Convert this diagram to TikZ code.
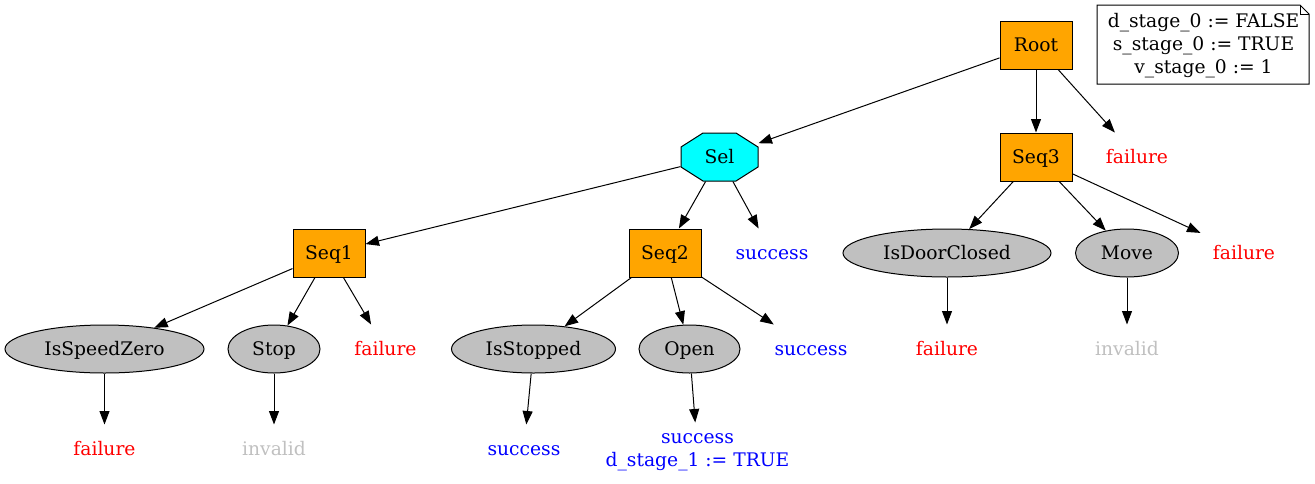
\documentclass[tikz,border=0pt]{standalone}
\usepackage{fontspec}
\setmainfont{DejaVu Serif}
\usetikzlibrary{arrows.meta,shapes.geometric,calc}
\definecolor{gvorange}{HTML}{FFA500}
\definecolor{gvcyan}{HTML}{00FFFF}
\definecolor{gvgray}{HTML}{C0C0C0}
\definecolor{gvblue}{HTML}{0000FF}
\definecolor{gvred}{HTML}{FF0000}
\begin{document}
\begin{tikzpicture}[x=1pt,y=-1pt,
  font=\fontsize{18.7}{23}\selectfont,
  line width=1pt,
  oneline/.style={text height=16pt, text depth=2.4pt},
  box/.style={draw, fill=gvorange, minimum width=72pt, minimum height=48pt, inner sep=0pt, oneline},
  leaf/.style={draw, fill=gvgray, ellipse, minimum height=48pt, inner sep=0pt, oneline},
  resbase/.style={inner xsep=12pt, inner ysep=0pt, minimum height=48pt},
  res/.style={resbase, oneline},
  fail/.style={res, text=gvred},
  succ/.style={res, text=gvblue},
  inval/.style={res, text=gvgray},
  edge/.style={-{Triangle[length=13.5pt,width=10pt]}}]
\useasboundingbox (0,0) rectangle (1315,483);

% note
\draw[fill=white] (1097,5) -- (1300,5) -- (1309,14) -- (1309,84) -- (1097,84) -- cycle;
\draw (1300,5) -- (1300,14) -- (1309,14);
\node[align=center, inner sep=0pt] (note) at (1203.5,46) {d\_stage\_0 := FALSE\\s\_stage\_0 := TRUE\\v\_stage\_0 := 1};

% octagon for Sel
\coordinate (selc) at (719.5,157);
\draw[fill=gvcyan] ($(selc)+(-16.5,-24)$) -- ($(selc)+(16.5,-24)$) -- ($(selc)+(38.5,-10)$) -- ($(selc)+(38.5,10)$) -- ($(selc)+(16.5,24)$) -- ($(selc)+(-16.5,24)$) -- ($(selc)+(-38.5,10)$) -- ($(selc)+(-38.5,-10)$) -- cycle;
\node[minimum width=77pt, minimum height=48pt, inner sep=0pt, oneline] (Sel) at (selc) {Sel};

\node[box] (Root) at (1036,45) {Root};
\node[box] (Seq3) at (1036,157) {Seq3};
\node[fail] (f0) at (1137,157) {failure};

\node[box] (Seq1) at (329,253) {Seq1};
\node[box] (Seq2) at (665,253) {Seq2};
\node[succ] (s0) at (772,253) {success};
\node[leaf, minimum width=208pt] (IsDoorClosed) at (947,253) {IsDoorClosed};
\node[leaf, minimum width=103pt] (Move) at (1127,253) {Move};
\node[fail] (f1) at (1244,253) {failure};

\node[leaf, minimum width=199pt] (IsSpeedZero) at (104.5,349) {IsSpeedZero};
\node[leaf, minimum width=92pt] (Stop) at (274,349) {Stop};
\node[fail] (f2) at (385.5,349) {failure};
\node[leaf, minimum width=164pt] (IsStopped) at (533.5,349) {IsStopped};
\node[leaf, minimum width=101pt] (Open) at (689.5,349) {Open};
\node[succ] (s1) at (811,349) {success};
\node[fail] (f3) at (947,349) {failure};
\node[inval] (inv0) at (1127,349) {invalid};

\node[fail] (f4) at (104.5,449) {failure};
\node[inval] (inv1) at (274,449) {invalid};
\node[succ] (s2) at (524,449) {success};
\node[resbase, text=gvblue, align=center, minimum height=58pt] (s3) at (697.5,452) {success\\d\_stage\_1 := TRUE};

\draw[edge] (Root) -- (Sel);
\draw[edge] (Root) -- (Seq3);
\draw[edge] (Root) -- (f0);
\draw[edge] (Sel) -- (Seq1);
\draw[edge] (Sel) -- (Seq2);
\draw[edge] (Sel) -- (s0);
\draw[edge] (Seq3) -- (IsDoorClosed);
\draw[edge] (Seq3) -- (Move);
\draw[edge] (Seq3) -- (f1);
\draw[edge] (Seq1) -- (IsSpeedZero);
\draw[edge] (Seq1) -- (Stop);
\draw[edge] (Seq1) -- (f2);
\draw[edge] (Seq2) -- (IsStopped);
\draw[edge] (Seq2) -- (Open);
\draw[edge] (Seq2) -- (s1);
\draw[edge] (IsDoorClosed) -- (f3);
\draw[edge] (Move) -- (inv0);
\draw[edge] (IsSpeedZero) -- (f4);
\draw[edge] (Stop) -- (inv1);
\draw[edge] (IsStopped) -- (s2);
\draw[edge] (Open) -- (s3);
\end{tikzpicture}
\end{document}
